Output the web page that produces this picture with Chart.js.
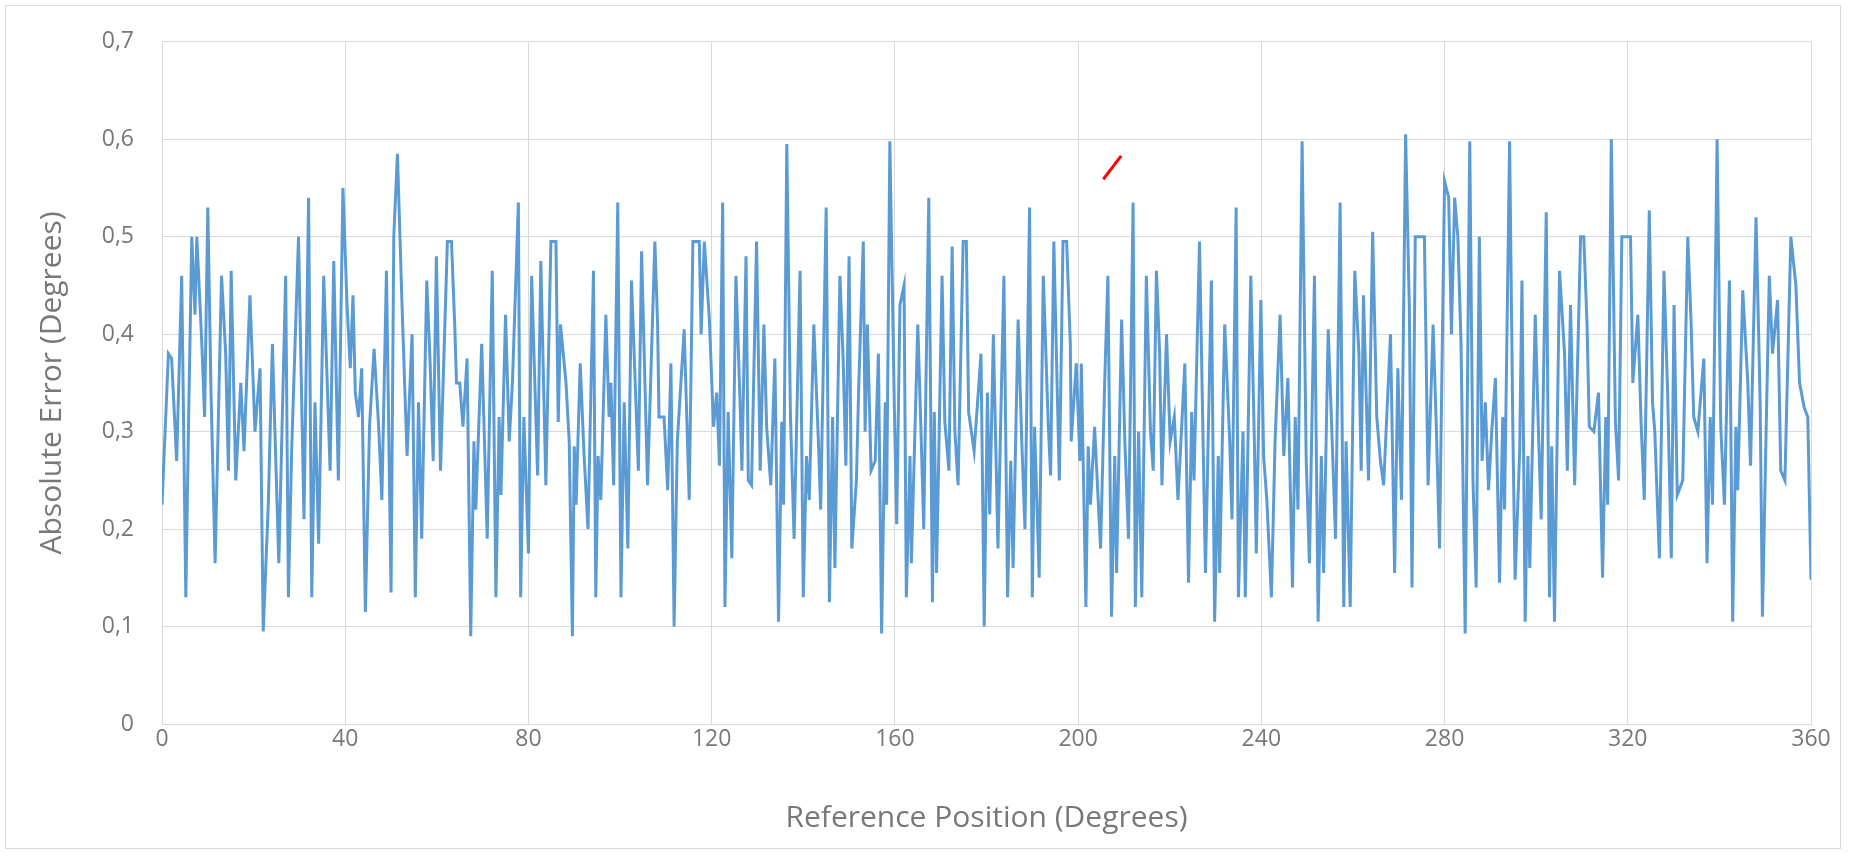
<!DOCTYPE html>
<html>
<head>
<meta charset="utf-8">
<script src="https://cdn.jsdelivr.net/npm/chart.js@4/dist/chart.umd.min.js"></script>
<style>
  body { margin: 0; background: #fff; }
  #wrap { position: relative; width: 1858px; height: 863px; }
  #frame { position: absolute; left: 5px; top: 5px; width: 1834px; height: 842px; border: 1px solid #d9d9d9; pointer-events: none; }
</style>
</head>
<body>
<div id="wrap">
  <canvas id="chart" width="1858" height="863"></canvas>
  <div id="frame"></div>
</div>
<script>
// eixo x: posição de referência (graus), eixo y: erro absoluto (graus)
const positions = [
  0, 1.4, 2.1, 3.2, 4.3, 5.2, 5.8, 6.5, 7.2, 7.6, 8.7, 9.3, 10.0, 10.7, 11.6, 13.0, 13.9, 14.5, 15.1, 16.1,
  17.2, 17.9, 19.2, 20.3, 21.4, 22.1, 23.2, 24.1, 25.5, 27.0, 27.6, 28.3, 29.8,
  31.0, 32.0, 32.7, 33.4, 34.2, 35.3, 36.0, 36.7, 37.5, 38.5, 39.5, 40.4, 41.1, 41.7, 42.2, 42.9, 43.6, 44.4,
  45.3, 46.3, 47.3, 48.0, 49.0, 50.0, 50.6, 51.4, 52.4, 53.5, 54.6, 55.3, 56.0, 56.7, 57.8, 58.5, 59.2, 59.9,
  60.8, 62.3, 63.2, 63.9, 64.3, 65.0, 65.7, 66.6, 67.4, 68.1, 68.5, 69.8, 71.0, 72.1, 72.9, 73.6, 74.0, 75.0,
  75.8, 76.5, 77.8, 78.3, 79.0, 80.0, 80.7, 82.0, 82.7, 83.8, 84.9, 86.0, 86.5, 87.0, 88.2, 88.9, 89.6,
  90.0, 90.4, 91.3, 92.1, 93.0, 94.2, 94.7, 95.2, 95.8, 96.9, 97.6, 98.0, 98.6, 99.5, 100.2, 100.9, 101.7,
  102.5, 104.0, 104.7, 106.0, 107.6, 108.2, 108.5, 109.6, 110.4, 111.1, 111.8, 112.5, 114.0, 115.1, 115.9,
  117.3, 117.7, 118.4, 119.5, 120.4, 121.1, 121.7, 122.4, 122.9, 123.6, 124.4, 125.3, 126.2, 126.6, 127.5,
  128.0, 128.7, 129.8, 130.6, 131.4, 132.0, 132.9, 133.8, 134.6, 135.3, 135.7, 136.4, 137.2, 138.0, 139.3,
  140.0, 140.7, 141.3, 142.3, 143.3, 143.8, 145.0, 145.7, 146.4, 146.9, 148.0, 148.7, 149.3, 150.0, 150.6,
  151.6, 152.1, 153.1, 153.5, 154.0, 154.8, 155.7, 156.4, 157.1, 157.9, 158.2, 158.9, 159.9, 160.4, 161.1,
  162.0, 162.5, 163.3, 163.6, 165.0, 165.7, 166.3, 167.4, 168.2, 168.6, 169.1, 170.3, 170.9, 171.8, 172.5,
  173.1, 173.8, 174.9, 175.6, 176.1, 177.3, 178.8, 179.5, 180.2, 180.7, 181.5, 182.5, 183.8, 184.6, 185.3,
  185.8, 186.9, 187.7, 188.4, 189.4, 190.0, 190.5, 191.5, 192.4, 193.5, 194.0, 194.7, 195.9, 196.7, 197.5,
  198.3, 198.5, 199.6, 200.4, 200.7, 201.7, 202.2, 202.7, 203.6, 204.9, 205.8, 206.5, 207.3, 208.0, 208.4,
  209.5, 210.2, 211.0, 212.0, 212.5, 213.2, 213.9, 214.9, 215.8, 216.4, 217.1, 217.8, 218.3, 219.3, 220.1,
  221.0, 221.8, 223.3, 224.1, 224.8, 225.3, 226.5, 227.8, 229.1, 229.8, 230.6, 230.9, 232.0, 233.1, 233.6,
  234.5, 235.0, 236.0, 236.5, 237.7, 238.5, 238.9, 239.9, 240.5, 241.2, 242.2, 243.0, 244.1, 244.9, 245.8,
  246.8, 247.4, 248.0, 248.9, 249.8, 250.5, 251.6, 252.4, 253.1, 253.6, 254.6, 255.4, 256.2, 257.2, 258.0,
  258.5, 259.4, 260.4, 261.3, 261.8, 262.3, 263.4, 264.3, 265.2, 266.0, 266.7, 268.2, 269.1, 269.8, 270.6,
  271.5, 272.3, 272.9, 273.6, 275.6, 276.4, 277.5, 278.2, 278.9, 280.0, 280.9, 281.5, 282.2, 282.9, 283.6,
  284.5, 285.5, 286.2, 286.9, 287.6, 288.2, 288.9, 289.6, 290.3, 291.1, 292.0, 292.7, 293.1, 294.2, 294.9,
  295.4, 296.4, 296.9, 297.6, 298.2, 298.6, 299.8, 300.5, 301.1, 302.2, 302.9, 303.4, 304.0, 305.1, 306.2,
  306.8, 307.5, 308.4, 309.7, 310.4, 311.1, 311.6, 312.6, 313.6, 314.5, 315.2, 315.6, 316.4, 317.3, 318.0,
  318.7, 320.6, 321.1, 322.2, 322.9, 323.6, 324.7, 325.4, 325.9, 326.9, 327.9, 328.7, 329.5, 330.1, 330.8,
  332.0, 333.1, 333.8, 334.4, 335.3, 336.6, 337.3, 338.0, 338.5, 339.5, 340.3, 341.1, 342.2, 342.9, 343.6,
  344.0, 345.1, 346.2, 346.8, 348.0, 348.9, 349.4, 350.2, 350.9, 351.6, 352.7, 353.4, 354.3, 355.6, 356.7,
  357.5, 358.5, 359.3, 360.0
];
const errors = [
  0.225, 0.38, 0.375, 0.27, 0.46, 0.13, 0.31, 0.50, 0.42, 0.50, 0.39, 0.315, 0.53, 0.34, 0.165, 0.46, 0.38, 0.26, 0.465, 0.25,
  0.35, 0.28, 0.44, 0.30, 0.365, 0.095, 0.225, 0.39, 0.165, 0.46, 0.13, 0.28, 0.50,
  0.21, 0.54, 0.13, 0.33, 0.185, 0.46, 0.36, 0.26, 0.475, 0.25, 0.55, 0.43, 0.365, 0.44, 0.34, 0.315, 0.365, 0.115,
  0.305, 0.385, 0.305, 0.23, 0.465, 0.135, 0.50, 0.585, 0.43, 0.275, 0.40, 0.13, 0.33, 0.19, 0.455, 0.375, 0.27, 0.48,
  0.26, 0.495, 0.495, 0.41, 0.35, 0.35, 0.305, 0.375, 0.09, 0.29, 0.22, 0.39, 0.19, 0.465, 0.13, 0.315, 0.235, 0.42,
  0.29, 0.35, 0.535, 0.13, 0.315, 0.175, 0.46, 0.255, 0.475, 0.245, 0.495, 0.495, 0.31, 0.41, 0.35, 0.29, 0.09,
  0.285, 0.225, 0.37, 0.28, 0.20, 0.465, 0.13, 0.275, 0.23, 0.42, 0.315, 0.35, 0.245, 0.535, 0.13, 0.33, 0.18,
  0.455, 0.26, 0.485, 0.245, 0.495, 0.41, 0.315, 0.315, 0.24, 0.37, 0.10, 0.29, 0.405, 0.23, 0.495,
  0.495, 0.40, 0.495, 0.415, 0.305, 0.34, 0.265, 0.535, 0.12, 0.32, 0.17, 0.46, 0.33, 0.26, 0.48,
  0.25, 0.245, 0.495, 0.26, 0.41, 0.305, 0.245, 0.375, 0.105, 0.31, 0.225, 0.595, 0.315, 0.19, 0.465,
  0.13, 0.275, 0.23, 0.41, 0.29, 0.22, 0.53, 0.125, 0.315, 0.16, 0.46, 0.375, 0.265, 0.48, 0.18,
  0.25, 0.345, 0.495, 0.30, 0.41, 0.26, 0.27, 0.38, 0.093, 0.33, 0.225, 0.598, 0.32, 0.205, 0.43,
  0.45, 0.13, 0.275, 0.165, 0.41, 0.30, 0.20, 0.54, 0.125, 0.32, 0.155, 0.46, 0.31, 0.26, 0.49,
  0.30, 0.245, 0.495, 0.495, 0.32, 0.28, 0.38, 0.10, 0.34, 0.215, 0.40, 0.18, 0.46, 0.13, 0.27,
  0.16, 0.415, 0.29, 0.20, 0.53, 0.13, 0.305, 0.15, 0.46, 0.305, 0.255, 0.495, 0.25, 0.495, 0.495,
  0.39, 0.29, 0.37, 0.27, 0.37, 0.12, 0.285, 0.225, 0.305, 0.18, 0.35, 0.46, 0.11, 0.275, 0.155,
  0.415, 0.29, 0.19, 0.535, 0.12, 0.30, 0.13, 0.46, 0.30, 0.26, 0.465, 0.38, 0.245, 0.40, 0.29,
  0.315, 0.23, 0.37, 0.145, 0.32, 0.25, 0.495, 0.155, 0.455, 0.105, 0.275, 0.155, 0.41, 0.29, 0.21,
  0.53, 0.13, 0.30, 0.13, 0.46, 0.285, 0.175, 0.435, 0.275, 0.23, 0.13, 0.29, 0.42, 0.275, 0.355,
  0.14, 0.315, 0.22, 0.598, 0.27, 0.165, 0.46, 0.105, 0.275, 0.155, 0.405, 0.30, 0.19, 0.535, 0.12,
  0.29, 0.12, 0.465, 0.38, 0.26, 0.44, 0.25, 0.505, 0.315, 0.27, 0.245, 0.40, 0.155, 0.365, 0.23,
  0.605, 0.43, 0.14, 0.50, 0.50, 0.245, 0.41, 0.305, 0.18, 0.557, 0.54, 0.40, 0.54, 0.50, 0.39,
  0.093, 0.598, 0.25, 0.14, 0.50, 0.27, 0.33, 0.24, 0.30, 0.355, 0.145, 0.315, 0.22, 0.598, 0.305,
  0.148, 0.28, 0.455, 0.105, 0.275, 0.16, 0.42, 0.30, 0.21, 0.525, 0.13, 0.285, 0.105, 0.465, 0.38,
  0.26, 0.43, 0.245, 0.50, 0.50, 0.41, 0.305, 0.30, 0.34, 0.15, 0.315, 0.225, 0.60, 0.31, 0.25,
  0.50, 0.50, 0.35, 0.42, 0.31, 0.23, 0.527, 0.33, 0.30, 0.17, 0.465, 0.34, 0.17, 0.43, 0.235,
  0.25, 0.50, 0.415, 0.315, 0.30, 0.375, 0.165, 0.315, 0.225, 0.60, 0.305, 0.225, 0.455, 0.105, 0.305,
  0.24, 0.445, 0.35, 0.265, 0.52, 0.33, 0.11, 0.30, 0.46, 0.38, 0.435, 0.26, 0.25, 0.50, 0.45,
  0.35, 0.325, 0.315, 0.148
];
// pequeno traço vermelho que aparece na figura
const markX = [205.5, 209.4];
const markY = [0.559, 0.583];

const xTicks = { min: 0, max: 360, step: 40 };
const yTicks = { min: 0, max: 0.7, step: 0.1 };

const textColor = "#787878";
const gridColor = "#d9d9d9";

new Chart(document.getElementById("chart").getContext("2d"), {
  type: "line",
  data: {
    datasets: [
      {
        label: "Absolute Error",
        data: positions.map((p, i) => ({ x: p, y: errors[i] })),
        borderColor: "#5b9bd5",
        borderWidth: 3,
        pointRadius: 0,
        tension: 0
      },
      {
        label: "mark",
        data: markX.map((p, i) => ({ x: p, y: markY[i] })),
        borderColor: "#ff0000",
        borderWidth: 3,
        pointRadius: 0
      }
    ]
  },
  options: {
    responsive: false,
    animation: false,
    layout: { padding: { left: 7, right: 47, top: 39, bottom: 19 } },
    plugins: { legend: { display: false }, tooltip: { enabled: false } },
    scales: {
      x: {
        type: "linear",
        min: xTicks.min, max: xTicks.max,
        afterFit: (s) => { s.height = 120; },
        ticks: { stepSize: xTicks.step, color: textColor, padding: 2, font: { family: "Open Sans", size: 23 } },
        grid: { color: gridColor, drawTicks: false },
        border: { color: gridColor },
        title: { display: true, text: "Reference Position (Degrees)", color: textColor,
                 font: { family: "Open Sans", size: 30 }, padding: { top: 0, bottom: 8 } }
      },
      y: {
        min: yTicks.min, max: yTicks.max,
        afterFit: (s) => { s.width = 155; },
        ticks: { stepSize: yTicks.step, color: textColor, padding: 28, font: { family: "Open Sans", size: 23 },
                 callback: (v) => v === 0 ? "0" : v.toFixed(1).replace(".", ",") },
        grid: { color: gridColor, drawTicks: false },
        border: { color: gridColor },
        title: { display: true, text: "Absolute Error (Degrees)", color: textColor,
                 font: { family: "Open Sans", size: 30 }, padding: { top: 27, bottom: 0 } }
      }
    }
  }
});
</script>
</body>
</html>
